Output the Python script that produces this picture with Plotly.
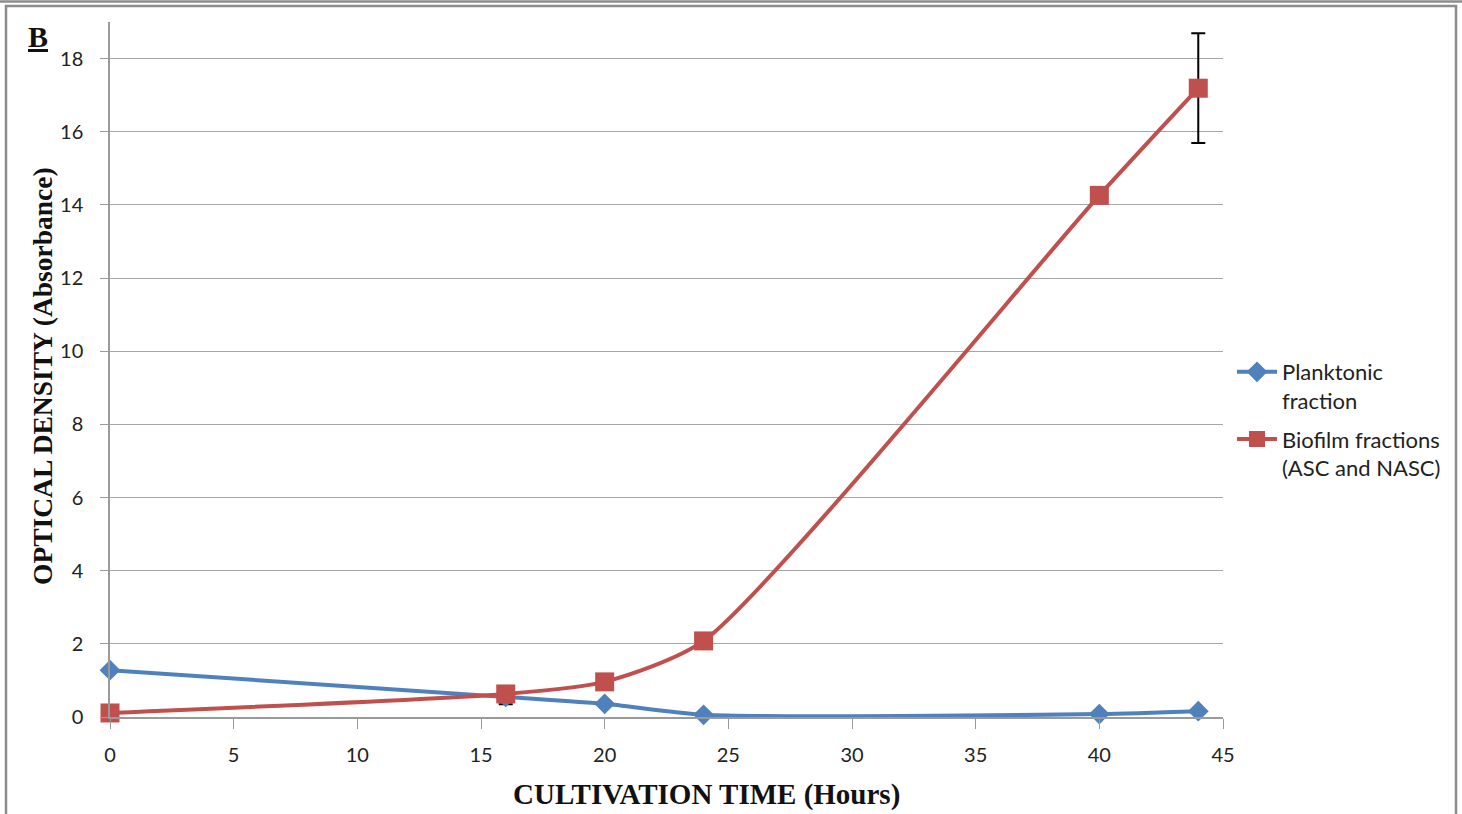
import plotly.graph_objects as go

hours = [0, 16, 20, 24, 40, 44]
planktonic = [1.28, 0.55, 0.36, 0.06, 0.08, 0.16]
planktonic_err = [0, 0.2, 0, 0, 0, 0]
biofilm = [0.11, 0.63, 0.96, 2.08, 14.26, 17.19]
biofilm_err = [0, 0, 0, 0, 0, 1.5]

x_ticks = [0, 5, 10, 15, 20, 25, 30, 35, 40, 45]
y_ticks = [0, 2, 4, 6, 8, 10, 12, 14, 16, 18]

W, H = 1462, 814
L, R, T, B = 110, 239, 22, 97
PW, PH = W - L - R, H - T - B

def px(x):
    return (x - L) / PW

def py(y):
    return (H - B - y) / PH

fig = go.Figure()
fig.add_trace(go.Scatter(
    x=hours, y=planktonic, name="Planktonic<br>fraction", legendgroup="p", cliponaxis=False,
    mode="lines+markers", line=dict(color="#4F81BD", width=4, shape="spline", smoothing=0.65),
    marker=dict(symbol="diamond", size=16, color="#4F81BD"),
    error_y=dict(type="data", array=planktonic_err, color="black", thickness=2, width=7, visible=True),
))
fig.add_trace(go.Scatter(
    x=hours, y=biofilm, name="Biofilm fractions<br>(ASC and NASC)", legendgroup="b", cliponaxis=False,
    mode="lines+markers", line=dict(color="#C0504D", width=4, shape="spline", smoothing=0.65),
    marker=dict(symbol="square", size=19, color="#C0504D"),
    error_y=dict(type="data", array=biofilm_err, color="black", thickness=2, width=7, visible=True),
))

tickfont = dict(family="Lato, Open Sans, sans-serif", size=20, color="#222")
fig.update_xaxes(range=[0, 45], tickvals=x_ticks, showgrid=False, showline=True,
                 linecolor="#9a9a9a", linewidth=1.5, ticks="outside", ticklen=10,
                 tickcolor="#9a9a9a", tickfont=tickfont, ticklabelstandoff=9, zeroline=False)
fig.update_yaxes(range=[0, 19], tickvals=y_ticks, showgrid=True, gridcolor="#a6a6a6", gridwidth=1,
                 showline=True, linecolor="#9a9a9a", linewidth=1.5, ticks="outside", ticklen=8,
                 tickcolor="#9a9a9a", tickfont=tickfont, ticklabelstandoff=13, zeroline=False)

serif = "Liberation Serif, Times New Roman, serif"
fig.add_annotation(text="<b>CULTIVATION TIME (Hours)</b>", x=px(706), y=py(794), xref="paper", yref="paper",
                   xanchor="center", yanchor="middle",
                   showarrow=False, font=dict(family=serif, size=29, color="#111"))
fig.add_annotation(text="<b>OPTICAL DENSITY (Absorbance)</b>", x=px(42), y=py(376), xref="paper", yref="paper",
                   xanchor="center", yanchor="middle",
                   showarrow=False, textangle=-90, font=dict(family=serif, size=27.5, color="#111"))
fig.add_annotation(text="<b><u>B</u></b>", x=px(38), y=py(37), xref="paper", yref="paper",
                   xanchor="center", yanchor="middle",
                   showarrow=False, font=dict(family=serif, size=30, color="#111"))

# outer frame
fig.add_shape(type="rect", xref="paper", yref="paper", x0=px(6), x1=px(1456), y0=py(830), y1=py(6),
              line=dict(color="#8c8c8c", width=2.5), layer="below")
fig.add_shape(type="line", xref="paper", yref="paper", x0=px(0), x1=px(W), y0=py(1.5), y1=py(1.5),
              line=dict(color="#8c8c8c", width=2.5))

fig.update_layout(
    width=W, height=H, margin=dict(l=L, r=R, t=T, b=B),
    paper_bgcolor="white", plot_bgcolor="white",
    showlegend=True,
    legend=dict(x=px(1232), y=py(351), xanchor="left", yanchor="top", valign="top",
                font=dict(family="Lato, Open Sans, sans-serif", size=22, color="#222"),
                bgcolor="rgba(0,0,0,0)", tracegroupgap=7, itemwidth=40),
)
fig.write_html("out.html")
